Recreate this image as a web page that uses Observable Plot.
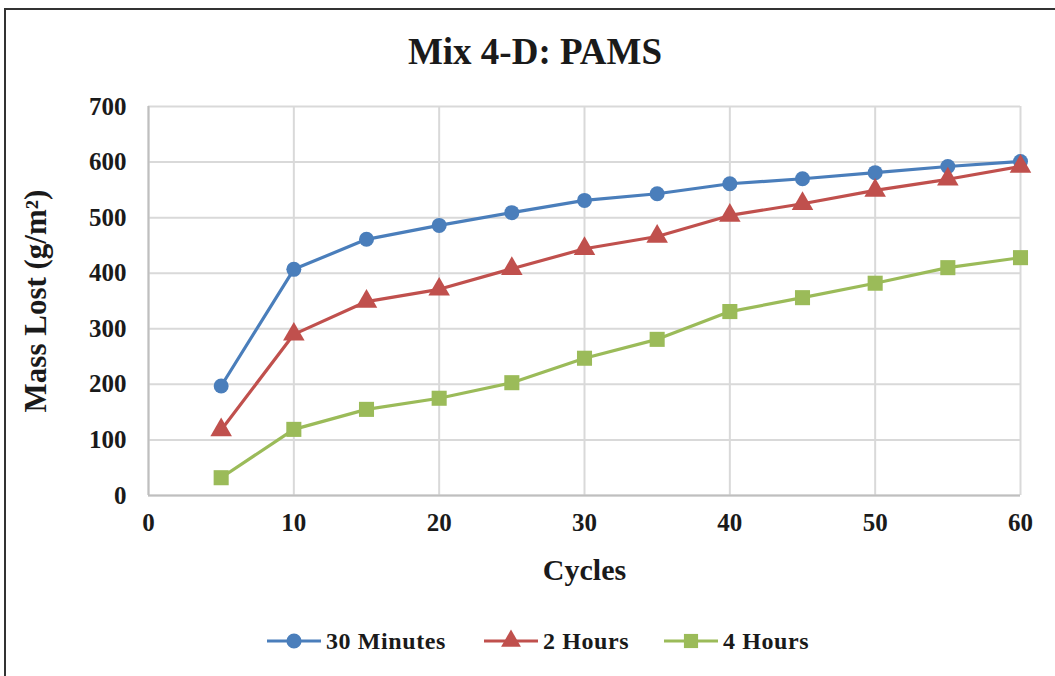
<!DOCTYPE html>
<html><head><meta charset="utf-8">
<script src="https://cdn.jsdelivr.net/npm/d3@7"></script>
<script src="https://cdn.jsdelivr.net/npm/@observablehq/plot@0.6"></script>
<style>
body{margin:0;background:#fff;width:1055px;height:676px;overflow:hidden;font-family:"Liberation Serif","Times New Roman",serif;}
#wrap{position:relative;width:1055px;height:676px;}
#frame{position:absolute;left:4px;top:8px;width:1060px;height:700px;border:2px solid #333;box-sizing:border-box;}
#title{position:absolute;left:0;width:1070px;top:30px;text-align:center;font-weight:bold;font-size:37px;color:#1a1a1a;}
#chart{position:absolute;left:0;top:0;}
#legend{position:absolute;top:626px;left:0;width:1055px;height:30px;}
.item{position:absolute;top:0;display:flex;align-items:center;font-weight:bold;font-size:24px;color:#1a1a1a;letter-spacing:0.6px;}
</style></head>
<body><div id="wrap"><div id="frame"></div><div id="title">Mix 4-D: PAMS</div><div id="chart"></div><div id="legend"></div></div>
<script>
const cycles = [5,10,15,20,25,30,35,40,45,50,55,60];
const min30 = [197,407,461,486,509,531,543,561,570,581,592,601];
const hr2 = [118,290,349,371,408,444,466,504,525,549,569,592];
const hr4 = [32,119,155,175,203,247,281,331,356,382,410,428];
const seriesNames = ["30 Minutes","2 Hours","4 Hours"];
const colors = ["#4a7ebb","#c0504d","#9bbb59"];
const symbols = ["circle","triangle","square"];
const xTicks = [0,10,20,30,40,50,60];
const yTicks = [0,100,200,300,400,500,600,700];

const vals = [min30, hr2, hr4];
const data = [];
vals.forEach((arr,i)=>arr.forEach((v,j)=>data.push({series:seriesNames[i], x:cycles[j], y:v})));

const font = "'Liberation Serif','Times New Roman',serif";
const plot = Plot.plot({
  width:1055, height:610,
  marginLeft:148, marginRight:35, marginTop:106, marginBottom:115,
  style:{fontFamily:font, fontWeight:"bold", fontSize:"25px", color:"#1a1a1a", background:"transparent"},
  x:{domain:[0,60], ticks:xTicks, label:null, tickSize:0, tickPadding:18},
  y:{domain:[0,700], ticks:yTicks, label:null, tickSize:0, tickPadding:22},
  color:{domain:seriesNames, range:colors},
  symbol:{domain:seriesNames, range:symbols},
  marks:[
    Plot.gridX(xTicks,{stroke:"#d9d9d9", strokeOpacity:1, strokeWidth:2}),
    Plot.gridY(yTicks,{stroke:"#d9d9d9", strokeOpacity:1, strokeWidth:2}),
    Plot.ruleY([0],{stroke:"#bfbfbf", strokeWidth:2}),
    Plot.ruleX([0],{stroke:"#bfbfbf", strokeWidth:2}),
    Plot.axisX(xTicks,{tickSize:0, tickPadding:18, fontSize:25, fontWeight:"bold", label:null}),
    Plot.axisY(yTicks,{tickSize:0, tickPadding:22, fontSize:25, fontWeight:"bold", label:null}),
    Plot.line(data,{x:"x", y:"y", z:"series", stroke:"series", strokeWidth:3.2}),
    Plot.dot(data.filter(d=>d.series==="30 Minutes"),{x:"x", y:"y", fill:"series", symbol:"series", r:7.5}),
    Plot.dot(data.filter(d=>d.series==="2 Hours"),{x:"x", y:"y", fill:"series", symbol:"series", r:8}),
    Plot.dot(data.filter(d=>d.series==="4 Hours"),{x:"x", y:"y", fill:"series", symbol:"series", r:8.5}),
    Plot.text(["Cycles"],{fontSize:30, fontWeight:"bold", x:30, y:0, dy:75}),
    Plot.text(["Mass Lost (g/m²)"],{x:0, y:350, dx:-112, rotate:-90, fontSize:31, fontWeight:"bold"})
  ]
});
document.getElementById("chart").appendChild(plot);

// legend
const leg = document.getElementById("legend");
const lx = [266,483,663];
seriesNames.forEach((n,i)=>{
  const d = document.createElement("div");
  d.className="item"; d.style.left=lx[i]+"px";
  const s = d3.create("svg").attr("width",56).attr("height",30);
  s.append("line").attr("x1",1).attr("x2",55).attr("y1",15).attr("y2",15).attr("stroke",colors[i]).attr("stroke-width",3.2);
  s.append("path").attr("transform","translate(28,15)").attr("fill",colors[i])
   .attr("d", d3.symbol(i===0?d3.symbolCircle:i===1?d3.symbolTriangle:d3.symbolSquare, i===0?180:i===1?170:200)());
  d.appendChild(s.node());
  const t = document.createElement("span"); t.textContent=n; t.style.marginLeft="4px";
  d.appendChild(t);
  leg.appendChild(d);
});
</script></body></html>
